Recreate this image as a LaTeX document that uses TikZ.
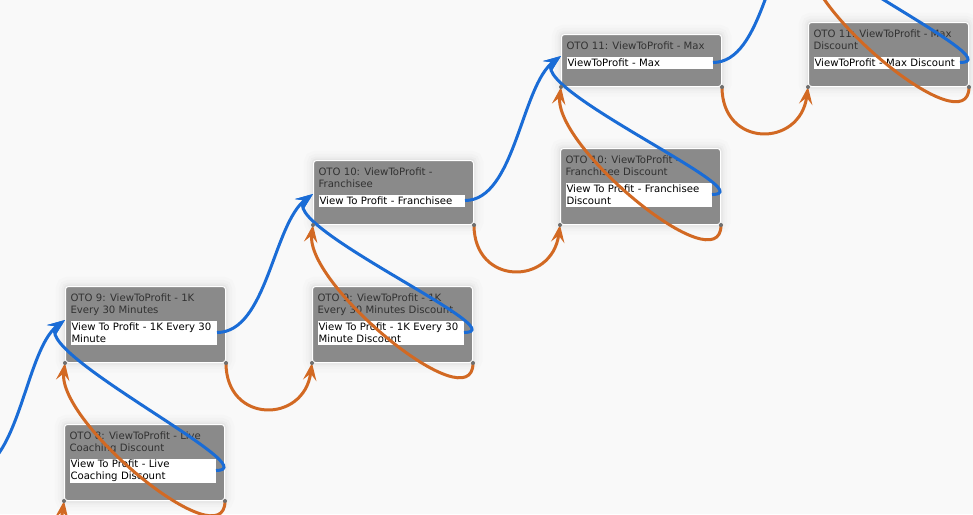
\documentclass[tikz,border=0pt]{standalone}
\usepackage{fontspec}
\newfontfamily\otofont{DejaVu Sans}
\usetikzlibrary{arrows.meta}

\definecolor{pagebg}{RGB}{249,249,249}
\definecolor{boxgrey}{RGB}{138,138,138}
\definecolor{titlegrey}{RGB}{50,50,50}
\definecolor{dotgrey}{RGB}{110,110,110}
\definecolor{flowblue}{RGB}{26,108,214}
\definecolor{skiporange}{RGB}{210,105,35}

\tikzset{every picture/.style={line width=0.75pt}}
\tikzset{
  otobox/.style={anchor=north west, inner sep=0pt, minimum width=120pt, rounded corners=2.25pt,
    fill=boxgrey, draw=white,
    preaction={draw=black, opacity=0.012, line width=15pt},
    preaction={draw=black, opacity=0.015, line width=10pt},
    preaction={draw=black, opacity=0.02, line width=6pt},
    preaction={draw=black, opacity=0.03, line width=3pt}},
  ototitle/.style={anchor=north west, inner sep=0pt, align=left, text=titlegrey,
    font=\otofont\fontsize{7.6pt}{9pt}\selectfont},
  otofield/.style={anchor=north west, inner xsep=0.75pt, inner ysep=0pt, fill=white, text=black,
    text width=108pt, align=left, minimum height=9pt,
    font=\otofont\fontsize{7.6pt}{9pt}\selectfont},
  tip/.style={-{Stealth[length=13pt,width=10pt,inset=5pt]}},
  flowlink/.style={draw=flowblue, line width=2.25pt, tip},
  skiplink/.style={draw=skiporange, line width=2.25pt, tip},
  enddot/.style={fill=dotgrey}
}

\begin{document}
\begin{tikzpicture}[x=0.75pt,y=0.75pt,yscale=-1,xscale=1]
    \useasboundingbox (0,0) rectangle (973,514);
    \fill[pagebg] (0,0) rectangle (973,514);
    \clip (0,0) rectangle (973,514);

    %Offers outside the view
    \coordinate (oto8-out) at (-31,472);
    \coordinate (oto8-corner) at (-23,500);
    \coordinate (oto12-in) at (809,-80);
    \coordinate (oto12-corner) at (809,-52);

    %Shape: OTO 9
    \node[otobox, minimum height=57pt] (oto9) at (65,286) {};
    \node[ototitle] (oto9-t) at (70,293) {OTO 9: ViewToProfit - 1K\\Every 30 Minutes};
    \node[otofield, minimum height=18pt] (oto9-f) at (70,320) {View To Profit - 1K Every 30\\Minute};
    %Shape: OTO 8 discount
    \node[otobox, minimum height=57pt] (oto8d) at (64,424) {};
    \node[ototitle] (oto8d-t) at (69,431) {OTO 8: ViewToProfit - Live\\Coaching Discount};
    \node[otofield, minimum height=18pt] (oto8d-f) at (69,458) {View To Profit - Live\\Coaching Discount};
    %Shape: OTO 10
    \node[otobox, minimum height=48pt] (oto10) at (313,160) {};
    \node[ototitle] (oto10-t) at (318,167) {OTO 10: ViewToProfit -\\Franchisee};
    \node[otofield] (oto10-f) at (318,194) {View To Profit - Franchisee};
    %Shape: OTO 9 discount
    \node[otobox, minimum height=57pt] (oto9d) at (312,286) {};
    \node[ototitle] (oto9d-t) at (317,293) {OTO 9: ViewToProfit - 1K\\Every 30 Minutes Discount};
    \node[otofield, minimum height=18pt] (oto9d-f) at (317,320) {View To Profit - 1K Every 30\\Minute Discount};
    %Shape: OTO 11
    \node[otobox, minimum height=39pt] (oto11) at (561,34) {};
    \node[ototitle] (oto11-t) at (566,41) {OTO 11: ViewToProfit - Max};
    \node[otofield] (oto11-f) at (566,56) {ViewToProfit - Max};
    %Shape: OTO 10 discount
    \node[otobox, minimum height=57pt] (oto10d) at (560,148) {};
    \node[ototitle] (oto10d-t) at (565,155) {OTO 10: ViewToProfit -\\Franchisee Discount};
    \node[otofield, minimum height=18pt] (oto10d-f) at (565,182) {View To Profit - Franchisee\\Discount};
    %Shape: OTO 11 discount
    \node[otobox, minimum height=48pt] (oto11d) at (808,22) {};
    \node[ototitle] (oto11d-t) at (813,29) {OTO 11: ViewToProfit - Max\\Discount};
    \node[otofield] (oto11d-f) at (813,56) {ViewToProfit - Max Discount};

    %Curve Lines: accepted
    \draw[flowlink] (oto8-out) .. controls +(50,0) and +(-40,30) .. (oto9-f.north -| oto9.west);
    \draw[flowlink] (oto8d-f.east) .. controls +(55,0) and +(-40,30) .. (oto9-f.north -| oto9.west);
    \draw[flowlink] (oto9-f.east) .. controls +(50,0) and +(-40,30) .. (oto10-f.north -| oto10.west);
    \draw[flowlink] (oto9d-f.east) .. controls +(55,0) and +(-40,30) .. (oto10-f.north -| oto10.west);
    \draw[flowlink] (oto10-f.east) .. controls +(50,0) and +(-40,30) .. (oto11-f.north -| oto11.west);
    \draw[flowlink] (oto10d-f.east) .. controls +(55,0) and +(-40,30) .. (oto11-f.north -| oto11.west);
    \draw[flowlink] (oto11-f.east) .. controls +(50,0) and +(-40,30) .. (oto12-in);
    \draw[flowlink] (oto11d-f.east) .. controls +(55,0) and +(-40,30) .. (oto12-in);

    %Curve Lines: declined
    \draw[skiplink] (oto8-corner) .. controls +(0,61) and +(-8,61) .. (oto8d.south west);
    \draw[skiplink] (oto8d.south east) .. controls +(0,60) and +(-8,60) .. (oto9.south west);
    \draw[skiplink] (oto9.south east) .. controls +(0,61) and +(-8,61) .. (oto9d.south west);
    \draw[skiplink] (oto9d.south east) .. controls +(0,60) and +(-8,60) .. (oto10.south west);
    \draw[skiplink] (oto10.south east) .. controls +(0,61) and +(-8,61) .. (oto10d.south west);
    \draw[skiplink] (oto10d.south east) .. controls +(0,60) and +(-8,60) .. (oto11.south west);
    \draw[skiplink] (oto11.south east) .. controls +(0,61) and +(-8,61) .. (oto11d.south west);
    \draw[skiplink] (oto11d.south east) .. controls +(0,60) and +(-8,60) .. (oto12-corner);

    %End points
    \fill[enddot] (oto8d.south west) circle [radius=2] (oto8d.south east) circle [radius=2];
    \fill[enddot] (oto9.south west) circle [radius=2] (oto9.south east) circle [radius=2];
    \fill[enddot] (oto9d.south west) circle [radius=2] (oto9d.south east) circle [radius=2];
    \fill[enddot] (oto10.south west) circle [radius=2] (oto10.south east) circle [radius=2];
    \fill[enddot] (oto10d.south west) circle [radius=2] (oto10d.south east) circle [radius=2];
    \fill[enddot] (oto11.south west) circle [radius=2] (oto11.south east) circle [radius=2];
    \fill[enddot] (oto11d.south west) circle [radius=2] (oto11d.south east) circle [radius=2];

\end{tikzpicture}
\end{document}
